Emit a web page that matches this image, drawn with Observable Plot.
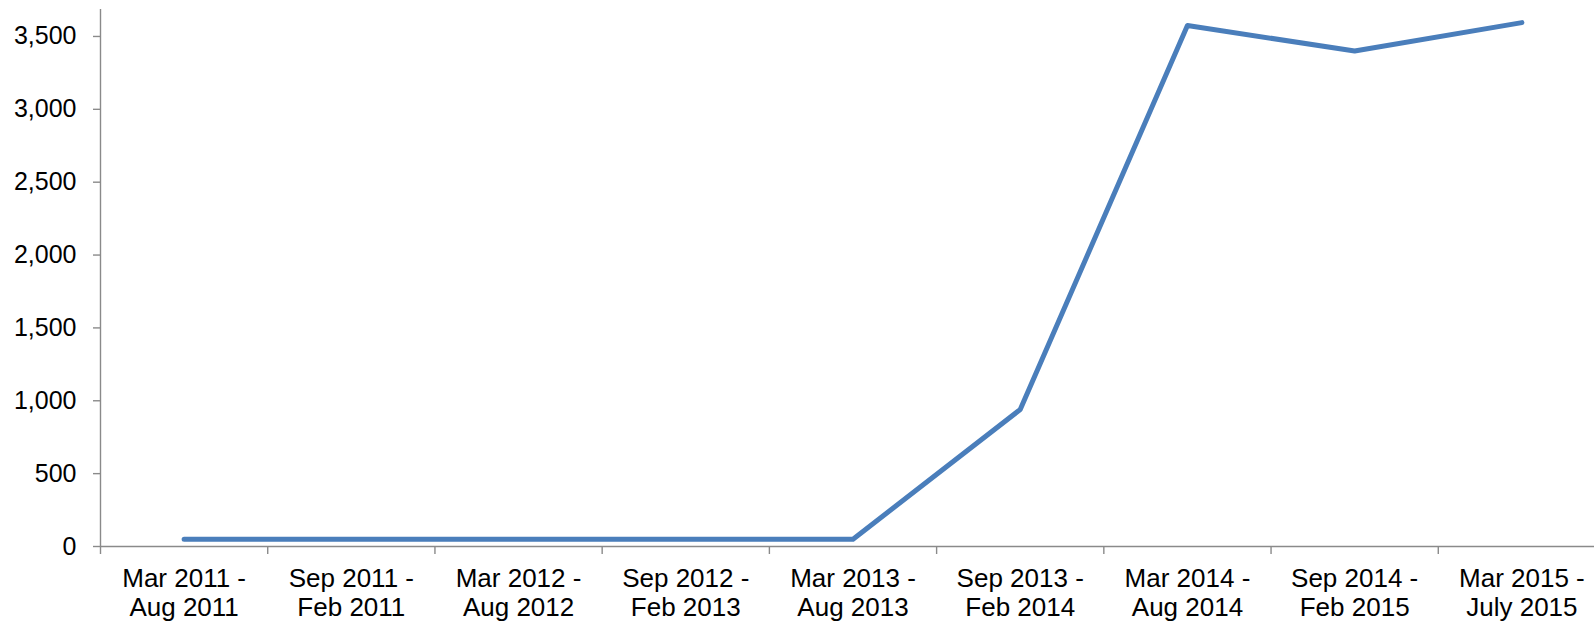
<!DOCTYPE html>
<html>
<head>
<meta charset="utf-8">
<script src="https://cdn.jsdelivr.net/npm/d3@7"></script>
<script src="https://cdn.jsdelivr.net/npm/@observablehq/plot@0.6"></script>
<style>
  html, body { margin: 0; padding: 0; background: #fff; overflow: hidden; }
</style>
</head>
<body>
<div id="chart"></div>
<script>
const periodStart = ["Mar 2011 -", "Sep 2011 -", "Mar 2012 -", "Sep 2012 -", "Mar 2013 -", "Sep 2013 -", "Mar 2014 -", "Sep 2014 -", "Mar 2015 -"];
const periodEnd = ["Aug 2011", "Feb 2011", "Aug 2012", "Feb 2013", "Aug 2013", "Feb 2014", "Aug 2014", "Feb 2015", "July 2015"];
const values = [50, 50, 50, 50, 50, 940, 3575, 3400, 3595];
const yTicks = [0, 500, 1000, 1500, 2000, 2500, 3000, 3500];

const data = values.map((v, i) => ({i, pos: i + 0.5, value: v, label: periodStart[i] + "\n" + periodEnd[i]}));
const n = values.length;
const boundaries = d3.range(n + 1);

const axisColor = "#8a8a8a";

const chart = Plot.plot({
  width: 1594,
  height: 622,
  marginLeft: 100,
  marginRight: 0,
  marginTop: 9,
  marginBottom: 76,
  style: {fontFamily: "'Liberation Sans', Arial, sans-serif", fontSize: "25px", color: "#000", background: "#fff", overflow: "hidden"},
  x: {domain: [0, n], range: [100, 1605]},
  y: {domain: [0, 3685]},
  marks: [
    Plot.ruleY([0], {stroke: axisColor, strokeWidth: 1.4}),
    Plot.ruleX([0], {stroke: axisColor, strokeWidth: 1.4}),
    Plot.axisY({ticks: yTicks, tickFormat: d3.format(","), tickSize: 7, tickPadding: 17, stroke: axisColor, strokeWidth: 1.4, fill: "#000", fontSize: 25, label: null}),
    Plot.axisX({ticks: boundaries, tickFormat: () => "", tickSize: 8, stroke: axisColor, strokeWidth: 1.4, label: null}),
    Plot.text(data, {x: "pos", y: 0, text: "label", lineAnchor: "top", dy: 19.5, lineHeight: 1.13, fontSize: 26, fill: "#000"}),
    Plot.line(data, {x: "pos", y: "value", stroke: "#4a7ebb", strokeWidth: 5, strokeLinecap: "round", strokeLinejoin: "round"})
  ]
});
document.getElementById("chart").appendChild(chart);
</script>
</body>
</html>
